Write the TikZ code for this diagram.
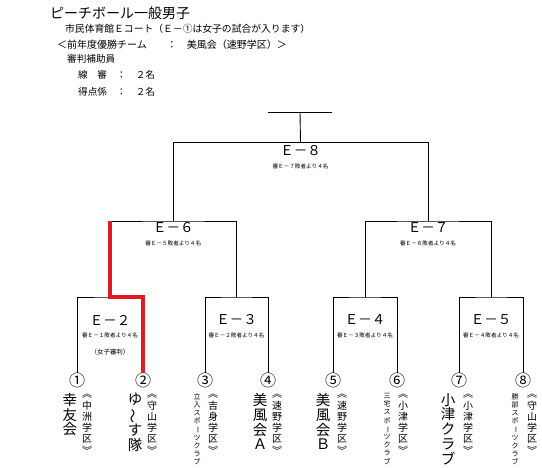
\documentclass[tikz,border=0pt]{standalone}
\usepackage{fontspec}
\setmainfont{Noto Sans CJK JP}
\usepackage{graphicx}
\usetikzlibrary{positioning}
\newcommand{\vopen}{︽}
\newcommand{\vclose}{︾}
\newcommand{\vbar}{\rotatebox[origin=c]{-90}{ー}}
\newcommand{\vwave}{\rotatebox[origin=c]{90}{～}}

\begin{document}
\begin{tikzpicture}[x=1pt,y=-1pt,
  bline/.style={line width=0.9pt,black},
  redline/.style={line width=3.6pt,color=redpen},
  hdr/.style={anchor=west,inner sep=0pt,font=\fontsize{9.6}{11}\selectfont},
  elabel/.style={inner sep=0pt,font=\fontsize{13.5}{15}\selectfont},
  esub/.style={inner sep=0pt,font=\fontsize{5.6}{7}\selectfont},
  seed/.style={inner sep=0pt,font=\fontsize{16}{18}\selectfont},
  team/.style={anchor=north,inner sep=0pt,align=center,font=\fontsize{14.5}{14.8}\selectfont},
  school/.style={anchor=north,inner sep=0pt,align=center,font=\fontsize{10}{11.3}\selectfont},
  club/.style={anchor=north,inner sep=0pt,align=center,font=\fontsize{7}{8.2}\selectfont}]
\definecolor{redpen}{RGB}{222,28,36}
\useasboundingbox (0,0) rectangle (542,468);

\node[hdr,font=\fontsize{14}{16}\selectfont] (title) at (50,13) {ピーチボール一般男子};
\node[hdr,font=\fontsize{9.8}{11}\selectfont] (court) at (65,29) {市民体育館Ｅコート（Ｅ－①は女子の試合が入ります）};
\node[hdr,font=\fontsize{10}{11}\selectfont] (prev) at (57,45) {＜前年度優勝チーム　　：　美風会（速野学区）＞};
\node[hdr] (staff) at (67,59) {審判補助員};
\node[hdr] (linesm) at (78,75) {線　審　：　２名};
\node[hdr] (scorer) at (78,92) {得点係　：　２名};

\coordinate (top) at (300,112);
\coordinate (topL) at (268,112);
\coordinate (topR) at (332,112);
\coordinate (m8) at (300.5,142.5);
\coordinate (m6) at (173.25,221);
\coordinate (m7) at (428,221);
\coordinate (m2) at (110,297);
\coordinate (m3) at (236.5,297);
\coordinate (m4) at (365,297);
\coordinate (m5) at (491,297);

\node[seed] (t1) at (77,380.5) {①};
\node[seed] (t2) at (143,380.5) {②};
\node[seed] (t3) at (205,380.5) {③};
\node[seed] (t4) at (268,380.5) {④};
\node[seed] (t5) at (333,380.5) {⑤};
\node[seed] (t6) at (397,380.5) {⑥};
\node[seed] (t7) at (459,380.5) {⑦};
\node[seed] (t8) at (523,380.5) {⑧};

\draw[bline] (topL) -- (topR);
\draw[bline] (top) -- (m8);
\draw[bline] (m6) |- (m8) -| (m7);
\draw[bline] (m2) |- (m6) -| (m3);
\draw[bline] (m4) |- (m7) -| (m5);
\draw[bline] (t1.north) |- (m2) -| (t2.north);
\draw[bline] (t3.north) |- (m3) -| (t4.north);
\draw[bline] (t5.north) |- (m4) -| (t6.north);
\draw[bline] (t7.north) |- (m5) -| (t8.north);
\draw[redline] (m2 |- m6) -- (m2) -| (t2.north);

\node[elabel] (e8) at (300.5,151) {Ｅ－８};
\node[esub] (s8) at (300.5,166) {審Ｅ－７敗者より４名};
\node[elabel] (e6) at (173.25,228) {Ｅ－６};
\node[esub] (s6) at (173.25,243) {審Ｅ－５敗者より４名};
\node[elabel] (e7) at (428,228) {Ｅ－７};
\node[esub] (s7) at (428,243) {審Ｅ－６敗者より４名};
\node[elabel] (e2) at (110,320) {Ｅ－２};
\node[esub] (s2) at (110,335) {審Ｅ－１敗者より４名};
\node[inner sep=0pt,font=\fontsize{6.5}{8}\selectfont] (w2) at (110,352) {（女子審判）};
\node[elabel] (e3) at (236.5,320) {Ｅ－３};
\node[esub] (s3) at (236.5,335) {審Ｅ－２敗者より４名};
\node[elabel] (e4) at (365,320) {Ｅ－４};
\node[esub] (s4) at (365,335) {審Ｅ－３敗者より４名};
\node[elabel] (e5) at (491,320) {Ｅ－５};
\node[esub] (s5) at (491,335) {審Ｅ－４敗者より４名};

\node[team] (n1) at (70,393) {幸\\友\\会};
\node[school] (c1) at (87,394) {\vopen\\中\\洲\\学\\区\\\vclose};
\node[team] (n2) at (135,393) {ゆ\\\vwave\\す\\隊};
\node[school] (c2) at (152,394) {\vopen\\守\\山\\学\\区\\\vclose};
\node[club] (n3) at (197,393) {立\\入\\ス\\ポ\\\vbar\\ツ\\ク\\ラ\\ブ};
\node[school] (c3) at (213,394) {\vopen\\吉\\身\\学\\区\\\vclose};
\node[team] (n4) at (260,393) {美\\風\\会\\Ａ};
\node[school] (c4) at (277,394) {\vopen\\速\\野\\学\\区\\\vclose};
\node[team] (n5) at (323,393) {美\\風\\会\\Ｂ};
\node[school] (c5) at (342,394) {\vopen\\速\\野\\学\\区\\\vclose};
\node[club] (n6) at (387,393) {三\\宅\\ス\\ポ\\\vbar\\ツ\\ク\\ラ\\ブ};
\node[school] (c6) at (403,394) {\vopen\\小\\津\\学\\区\\\vclose};
\node[team] (n7) at (448,393) {小\\津\\ク\\ラ\\ブ};
\node[school] (c7) at (468,394) {\vopen\\小\\津\\学\\区\\\vclose};
\node[club] (n8) at (515,393) {勝\\部\\ス\\ポ\\\vbar\\ツ\\ク\\ラ\\ブ};
\node[school] (c8) at (532,394) {\vopen\\守\\山\\学\\区\\\vclose};
\end{tikzpicture}
\end{document}
